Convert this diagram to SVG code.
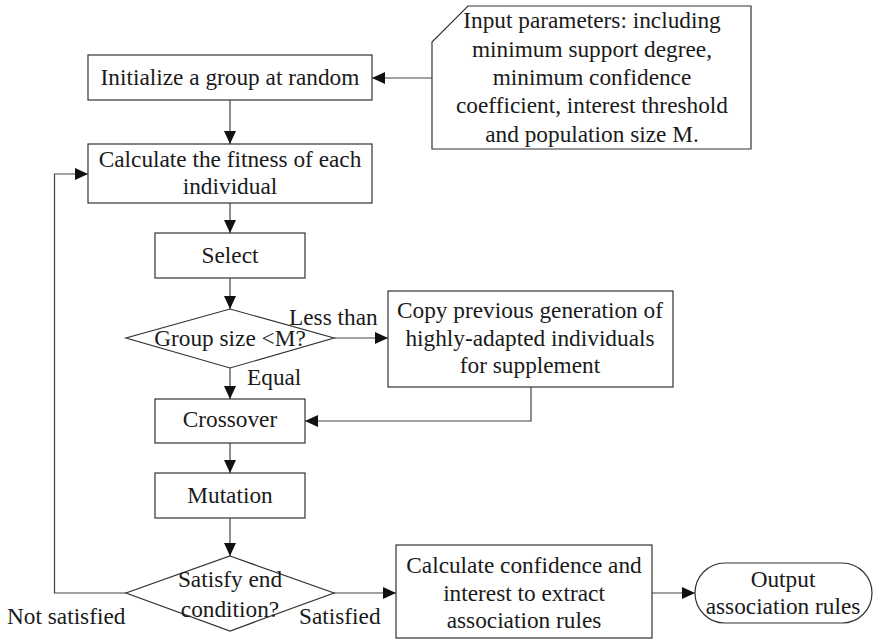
<svg xmlns="http://www.w3.org/2000/svg" width="873" height="640" viewBox="0 0 873 640">
  <style>
    .box { fill: #fff; stroke: #333; stroke-width: 1.2; }
    .line { fill: none; stroke: #444; stroke-width: 1.2; }
    text { font-family: "Liberation Serif", "Times New Roman", serif; font-size: 23.3px; fill: #1a1a1a; text-anchor: middle; }
    .lbl { text-anchor: start; }
  </style>
  <defs>
    <marker id="arrow" markerUnits="userSpaceOnUse" markerWidth="14" markerHeight="12" refX="13" refY="6" orient="auto">
      <path d="M0,0 L13,6 L0,12 Z" fill="#111"/>
    </marker>
  </defs>
  <rect width="873" height="640" fill="#fff"/>

  <g id="connectors">
    <path class="line" d="M432,78 H372" marker-end="url(#arrow)"/>
    <path class="line" d="M230,100 V144" marker-end="url(#arrow)"/>
    <path class="line" d="M230,203 V233" marker-end="url(#arrow)"/>
    <path class="line" d="M230,278 V309" marker-end="url(#arrow)"/>
    <path class="line" d="M334,338 H388" marker-end="url(#arrow)"/>
    <path class="line" d="M230,368 V399" marker-end="url(#arrow)"/>
    <path class="line" d="M531,387 V421 H305" marker-end="url(#arrow)"/>
    <path class="line" d="M230,443 V473" marker-end="url(#arrow)"/>
    <path class="line" d="M230,518 V556" marker-end="url(#arrow)"/>
    <path class="line" d="M126,593 H54.5 V174 H88" marker-end="url(#arrow)"/>
    <path class="line" d="M334,593 H396" marker-end="url(#arrow)"/>
    <path class="line" d="M652,593 H695" marker-end="url(#arrow)"/>
    <text x="289" y="325" class="lbl">Less than</text>
    <text x="247" y="385" class="lbl">Equal</text>
    <text x="7" y="624" class="lbl">Not satisfied</text>
    <text x="299" y="624" class="lbl">Satisfied</text>
  </g>

  <g id="input-params">
    <path class="box" d="M468,6 H751 V149 H432 V42 Z"/>
    <text x="592" y="28">Input parameters: including</text>
    <text x="592" y="57">minimum support degree,</text>
    <text x="592" y="85">minimum confidence</text>
    <text x="592" y="113">coefficient, interest threshold</text>
    <text x="592" y="142">and population size M.</text>
  </g>

  <g id="initialize">
    <rect class="box" x="88" y="55" width="284" height="45"/>
    <text x="230" y="85">Initialize a group at random</text>
  </g>

  <g id="fitness">
    <rect class="box" x="88" y="144" width="284" height="59"/>
    <text x="230" y="167">Calculate the fitness of each</text>
    <text x="230" y="194">individual</text>
  </g>

  <g id="select">
    <rect class="box" x="155" y="233" width="150" height="45"/>
    <text x="230" y="263">Select</text>
  </g>

  <g id="size-check">
    <path class="box" d="M230,309 L334,338 L230,368 L126,338 Z"/>
    <text x="230" y="346">Group size &lt;M?</text>
  </g>

  <g id="copy-previous">
    <rect class="box" x="388" y="291" width="285" height="96"/>
    <text x="530" y="318">Copy previous generation of</text>
    <text x="530" y="346">highly-adapted individuals</text>
    <text x="530" y="373">for supplement</text>
  </g>

  <g id="crossover">
    <rect class="box" x="155" y="399" width="150" height="44"/>
    <text x="230" y="427">Crossover</text>
  </g>

  <g id="mutation">
    <rect class="box" x="155" y="473" width="150" height="45"/>
    <text x="230" y="503">Mutation</text>
  </g>

  <g id="end-check">
    <path class="box" d="M230,556 L334,593 L230,631 L126,593 Z"/>
    <text x="230" y="587">Satisfy end</text>
    <text x="230" y="617">condition?</text>
  </g>

  <g id="extract-rules">
    <rect class="box" x="396" y="545" width="256" height="93"/>
    <text x="524" y="573">Calculate confidence and</text>
    <text x="524" y="601">interest to extract</text>
    <text x="524" y="628">association rules</text>
  </g>

  <g id="output">
    <rect class="box" x="695" y="563" width="177" height="60" rx="30" ry="30"/>
    <text x="783" y="587">Output</text>
    <text x="783" y="614">association rules</text>
  </g>
</svg>
